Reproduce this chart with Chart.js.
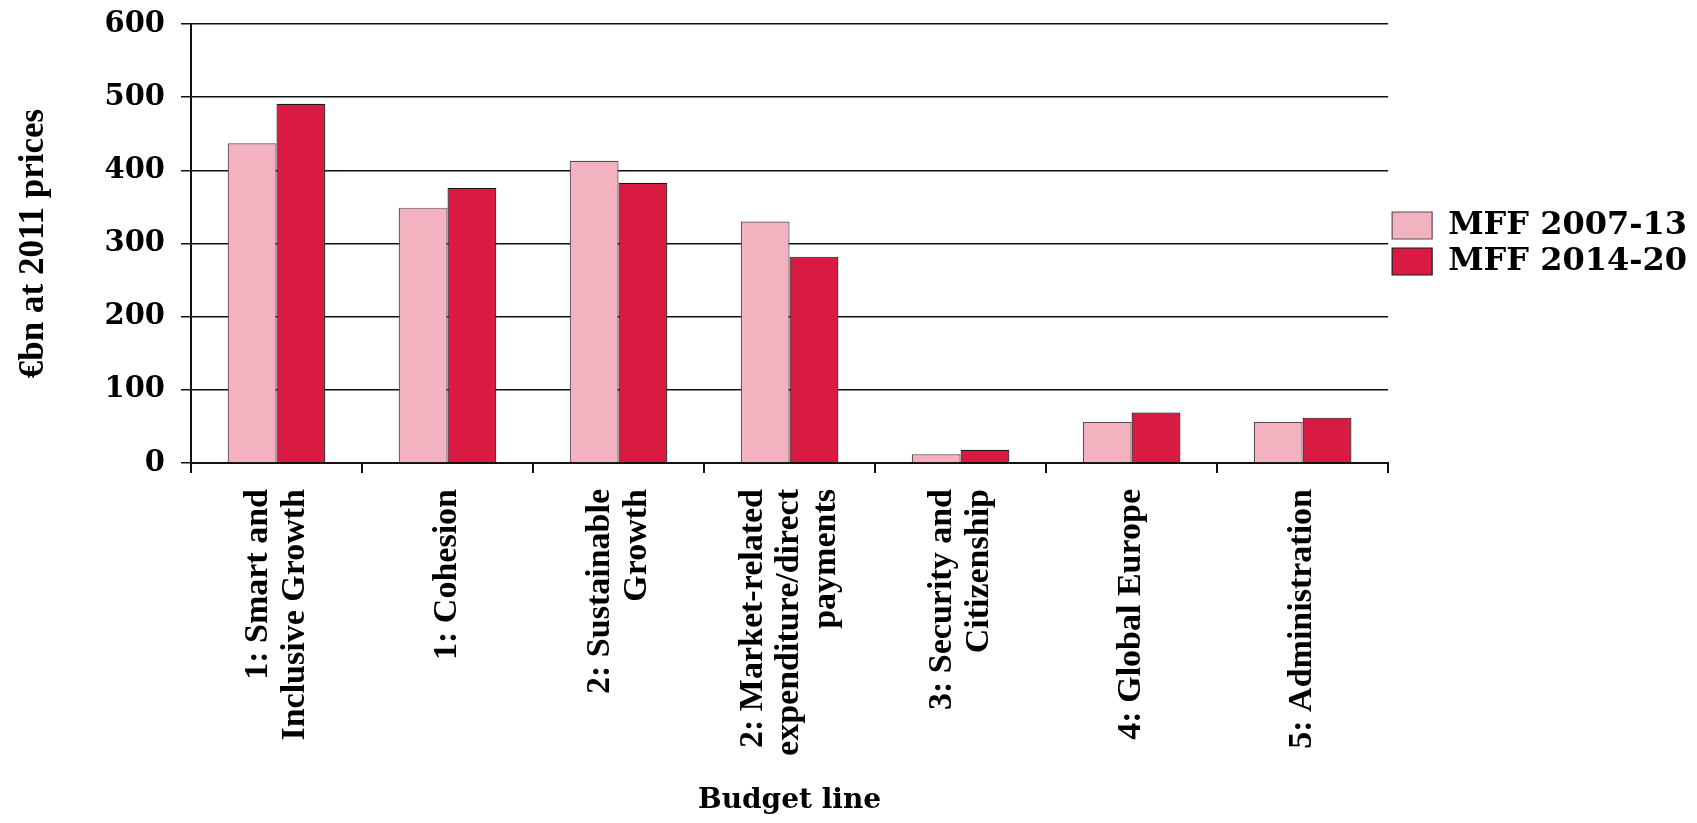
<!DOCTYPE html>
<html>
<head>
<meta charset="utf-8">
<script src="https://cdn.jsdelivr.net/npm/chart.js@4"></script>
<style>
  html, body { margin: 0; padding: 0; background: #fff; }
  #wrap { width: 1697px; height: 823px; }
</style>
</head>
<body>
<div id="wrap"><canvas id="grafico"></canvas></div>
<script>
// Categorias (linhas orçamentais) e valores, €bn a preços de 2011
const categorias = [
  ['1: Smart and', 'Inclusive Growth'],
  '1: Cohesion',
  ['2: Sustainable', 'Growth'],
  ['2: Market-related', 'expenditure/direct', 'payments'],
  ['3: Security and', 'Citizenship'],
  '4: Global Europe',
  '5: Administration'
];
const mff2007 = [437, 349, 413, 330, 12, 56, 56];
const mff2014 = [491, 376, 383, 282, 18, 69, 62];
const ticksY = [0, 100, 200, 300, 400, 500, 600];
const nomesSeries = ['MFF 2007-13', 'MFF 2014-20'];

const corPreto = '#111111';
const fonteX = { family: 'Liberation Serif', weight: 'bold', size: 34, lineHeight: 1.08 };

// O Chart.js põe a 1.ª linha de uma etiqueta rodada no tick; aqui centramos o bloco todo
const centrarEtiquetas = {
  id: 'centrarEtiquetas',
  beforeDraw(chart) {
    const escala = chart.scales.x;
    const alturaLinha = fonteX.size * fonteX.lineHeight;
    escala.getLabelItems().forEach(item => {
      if (item._centrado) return;
      const n = Array.isArray(item.label) ? item.label.length : 1;
      item.options.translation[0] -= (n - 1) * alturaLinha / 2;
      item._centrado = true;
    });
  }
};

new Chart(document.getElementById('grafico'), {
  type: 'bar',
  data: {
    labels: categorias,
    datasets: [
      { label: nomesSeries[0], data: mff2007, backgroundColor: '#F3B2C0', borderColor: '#5E4650', borderWidth: 1.2 },
      { label: nomesSeries[1], data: mff2014, backgroundColor: '#D91B43', borderColor: '#1A1A1A', borderWidth: 1.2 }
    ]
  },
  options: {
    responsive: true,
    maintainAspectRatio: false,
    animation: false,
    layout: { padding: { top: 24, right: 0, bottom: 0, left: 0 } },
    datasets: { bar: { categoryPercentage: 0.571, barPercentage: 1 } },
    plugins: {
      legend: {
        position: 'right',
        fullSize: false, // centra a legenda na área do gráfico
        labels: {
          boxWidth: 40, boxHeight: 27, padding: 4, color: '#000',
          font: { family: 'DejaVu Serif', weight: 'bold', size: 32 }
        }
      },
      tooltip: { enabled: false }
    },
    scales: {
      x: {
        grid: { drawOnChartArea: false, drawTicks: true, tickLength: 10, color: corPreto, lineWidth: 2, offset: true },
        border: { color: corPreto, width: 2 },
        ticks: {
          maxRotation: 90, minRotation: 90, autoSkip: false, padding: 16, color: '#000',
          font: fonteX
        },
        title: {
          display: true, text: 'Budget line', color: '#000',
          font: { family: 'DejaVu Serif', weight: 'bold', size: 28 },
          padding: { top: 0, bottom: 5 }
        },
        afterFit: (s) => { s.height = 360; }
      },
      y: {
        min: 0,
        max: 600,
        afterBuildTicks: (s) => { s.ticks = ticksY.map(v => ({ value: v })); },
        grid: { color: corPreto, lineWidth: 1.5, tickLength: 10 },
        border: { color: corPreto, width: 2 },
        ticks: { padding: 16, color: '#000', font: { family: 'DejaVu Serif', weight: 'bold', size: 29 } },
        title: {
          display: true, text: '€bn at 2011 prices', color: '#000',
          font: { family: 'Liberation Serif', weight: 'bold', size: 35 },
          padding: { top: 13, bottom: 0 }
        },
        afterFit: (s) => { s.width = 191; s.paddingTop = 0; s.paddingBottom = 0; }
      }
    }
  },
  plugins: [centrarEtiquetas]
});
</script>
</body>
</html>
